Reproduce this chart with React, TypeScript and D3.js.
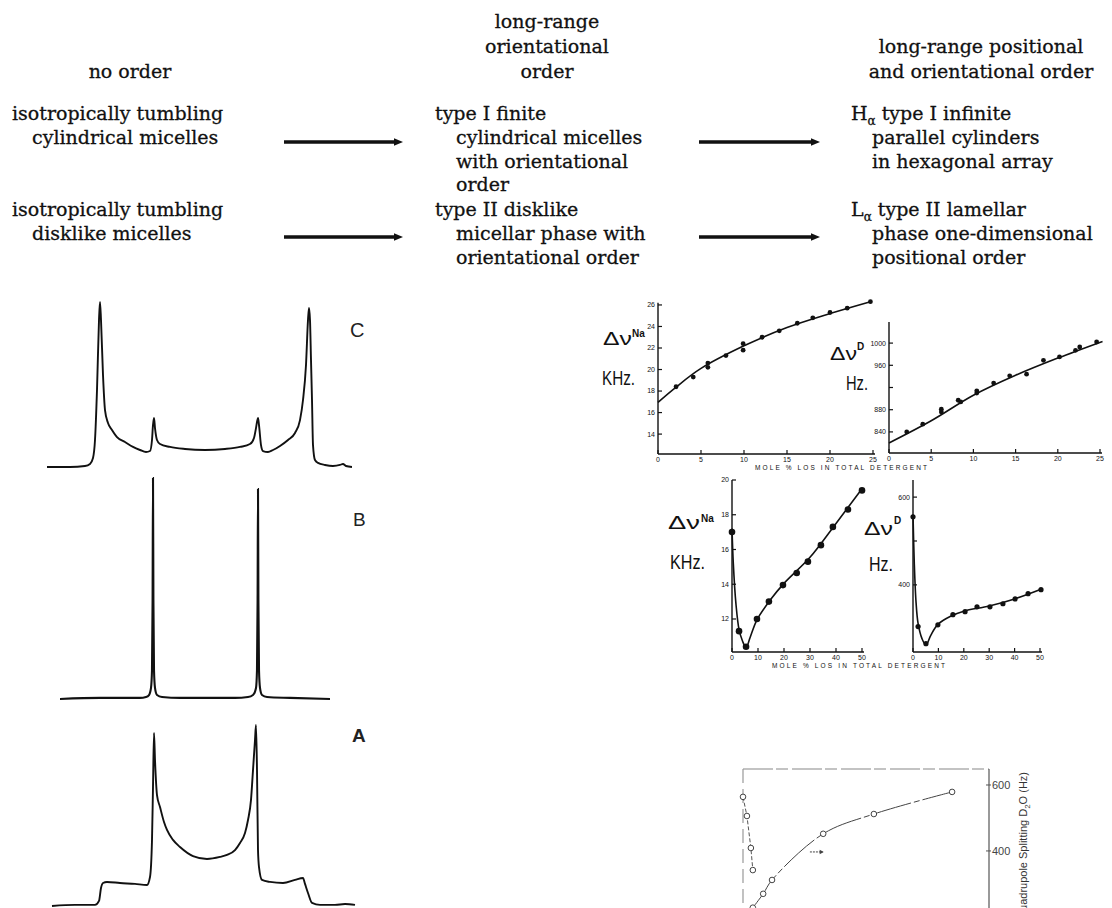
import React from 'react';
import * as d3 from 'd3';

type Pt = [number, number];

// ---- header text ----
const headNoOrder = ['no order'];
const headOrient = ['long-range', 'orientational', 'order'];
const headPosOrient = ['long-range positional', 'and orientational order'];

const row1Left = ['isotropically tumbling', 'cylindrical micelles'];
const row1Mid = ['type I finite', 'cylindrical micelles', 'with orientational', 'order'];
const row1Right = ['type I infinite', 'parallel cylinders', 'in hexagonal array'];
const row2Left = ['isotropically tumbling', 'disklike micelles'];
const row2Mid = ['type II disklike', 'micellar phase with', 'orientational order'];
const row2Right = ['type II lamellar', 'phase one-dimensional', 'positional order'];

// ---- NMR spectra: [relative frequency, intensity %] ----
const spectrumC: Pt[] = [
  [-15.8, 0], [-13.5, 0], [-12.0, 0.6], [-11.5, 1.8], [-11.2, 5.3], [-11.0, 15.9], [-10.8, 45.3],
  [-10.6, 86.5], [-10.5, 97.1], [-10.4, 86.5], [-10.2, 54.1], [-10.0, 33.5], [-9.7, 25.9], [-9.3, 21.8],
  [-8.8, 17.6], [-8.0, 14.7], [-7.2, 11.8], [-6.5, 10.0], [-5.9, 8.8], [-5.5, 9.4], [-5.3, 15.9],
  [-5.2, 24.7], [-5.1, 28.8], [-5.0, 22.9], [-4.8, 15.9], [-4.5, 13.5], [-3.5, 11.8], [-2.0, 10.6],
  [0, 10.0], [2.0, 10.6], [3.5, 11.8], [4.5, 13.5], [4.9, 17.1], [5.1, 22.9], [5.3, 28.8], [5.4, 24.7],
  [5.6, 12.9], [5.8, 9.4], [6.3, 8.8], [6.8, 10.0], [7.5, 12.4], [8.3, 15.9], [9.0, 20.0], [9.5, 27.6],
  [9.8, 39.4], [10.1, 60.0], [10.3, 86.5], [10.4, 93.5], [10.5, 86.5], [10.6, 62.9], [10.7, 39.4],
  [10.8, 12.9], [11.0, 4.1], [11.3, 2.4], [12.0, 1.2], [12.8, 0.6], [13.5, 1.2], [13.8, 1.8],
  [14.1, 0.6], [14.7, 0],
];
const spectrumB: Pt[] = [
  [-14.5, 0], [-10.5, 0.5], [-6.5, 0.5], [-5.9, 0.9], [-5.6, 1.8], [-5.4, 5.0], [-5.3, 13.1],
  [-5.24, 44.8], [-5.2, 100], [-5.16, 44.8], [-5.1, 13.1], [-5.0, 5.0], [-4.8, 1.8], [-4.3, 0.9],
  [-2.5, 0.5], [0, 0.5], [3, 0.5], [4.3, 0.9], [4.8, 1.8], [5.1, 5.0], [5.2, 13.1], [5.26, 44.8],
  [5.3, 95], [5.34, 44.8], [5.4, 13.1], [5.5, 5.0], [5.7, 1.8], [6.2, 0.9], [8.5, 0.5], [12.5, 0],
];
const spectrumA: Pt[] = [
  [-15.3, 0], [-13, 0.6], [-11, 0.6], [-10.6, 2.8], [-10.4, 9.9], [-10.2, 12.7], [-9.8, 13.3],
  [-8.5, 12.7], [-7.0, 12.2], [-5.8, 11.6], [-5.5, 16.0], [-5.3, 36.5], [-5.2, 65.7], [-5.1, 95.6],
  [-5.0, 80.7], [-4.8, 61.3], [-4.5, 54.7], [-4.1, 46.4], [-3.8, 42.0], [-3.2, 36.5], [-2.5, 32.6],
  [-1.2, 27.6], [0.2, 26.0], [1.5, 27.1], [2.2, 28.2], [3.0, 30.9], [3.5, 34.8], [4.0, 40.3],
  [4.3, 47.5], [4.6, 58.6], [4.8, 75.1], [5.0, 91.7], [5.1, 100], [5.2, 75.1], [5.3, 30.9],
  [5.4, 21.5], [5.7, 14.4], [6.5, 13.3], [7.8, 12.7], [9.0, 14.4], [9.8, 15.5], [10.0, 12.2],
  [10.3, 7.2], [10.7, 1.7], [11.5, 0.6], [13, 0.6], [14, 1.1], [15, 0.6],
];

// ---- splitting vs mole % LOS ----
const molTicksTop = [0, 5, 10, 15, 20, 25];
const molTicksBot = [0, 10, 20, 30, 40, 50];

const naTopPoints: Pt[] = [
  [2.1, 18.4], [4.1, 19.3], [5.8, 20.6], [5.8, 20.2], [7.9, 21.3], [9.9, 22.4], [9.9, 21.8],
  [12.1, 23.0], [14.1, 23.6], [16.2, 24.3], [18.0, 24.8], [20.0, 25.3], [22.0, 25.7], [24.7, 26.3],
];
const naTopCurve: Pt[] = [[0, 16.95], [2, 18.3], [5, 20.1], [10, 22.2], [15, 23.9], [20, 25.2], [24.7, 26.3]];
const naTopTicks = [14, 16, 18, 20, 22, 24, 26];
const naTopLabels = ['14', '16', '18', '20', '22', '24', '26'];

const dTopPoints: Pt[] = [
  [2.1, 840], [4.0, 854], [6.2, 881], [6.2, 876], [8.2, 897], [8.5, 894], [10.4, 914], [10.4, 910],
  [12.4, 928], [14.3, 941], [16.3, 944], [18.3, 969], [20.2, 975], [22.1, 987], [22.6, 993], [24.6, 1002],
];
const dTopCurve: Pt[] = [[0, 820], [5, 860], [10, 906], [15, 942], [20, 973], [25.3, 1003]];
const dTopTicks = [840, 880, 920, 960, 1000];
const dTopLabels = ['840', '880', '', '960', '1000'];

const naBotPoints: Pt[] = [
  [0, 17.0], [2.7, 11.3], [5.4, 10.4], [9.6, 12.0], [14.2, 13.0], [19.6, 13.95], [24.9, 14.65],
  [29.2, 15.3], [34.2, 16.25], [38.8, 17.3], [44.6, 18.3], [50, 19.4],
];
const naBotCurve: Pt[] = [
  [0, 17.2], [0.5, 15.2], [1.5, 12.9], [2.7, 11.4], [4, 10.75], [5.4, 10.35], [7, 10.95], [9.6, 11.95],
  [15, 13.15], [20, 14.05], [30, 15.55], [40, 17.5], [50, 19.5],
];
const naBotTicks = [12, 14, 16, 18, 20];
const naBotLabels = ['12', '14', '16', '18', '20'];

const dBotPoints: Pt[] = [
  [0, 555], [2.0, 305], [5.1, 266], [9.8, 309], [15.7, 332], [20.5, 339], [25.2, 350],
  [30.3, 350], [35.4, 357], [40.2, 368], [45.3, 380], [50.4, 389],
];
const dBotCurve: Pt[] = [
  [0, 560], [0.5, 450], [1.2, 360], [2, 312], [3.5, 278], [5.1, 263], [7, 285], [9.8, 310],
  [15, 329], [20, 340], [30, 352], [40, 368], [50.4, 390],
];
const dBotTicks = [400, 500, 600];
const dBotLabels = ['400', '', '600'];

// ---- D2O quadrupole splitting (lower right) ----
const d2oFall: Pt[] = [[0, 564], [0.8, 506], [1.6, 409], [2.0, 342]];
const d2oRise: Pt[] = [[2.0, 228], [4.1, 270], [5.9, 312], [16.3, 452], [26.6, 512], [42.5, 579]];
const d2oTicks = [400, 600];

const serif = 'DejaVu Serif';
const sans = 'Liberation Sans';
const ink = '#111';

const specX = d3.scaleLinear().domain([-16, 16]).range([45, 365]);
const specLine = (y: d3.ScaleLinear<number, number>) =>
  d3.line<Pt>().x(d => specX(d[0])).y(d => y(d[1])).curve(d3.curveMonotoneX);

const yC = d3.scaleLinear().domain([0, 100]).range([467, 297]);
const yB = d3.scaleLinear().domain([0, 100]).range([699, 478]);
const yA = d3.scaleLinear().domain([0, 100]).range([906, 725]);

function Panel({ x, y, points, curve, xTicks, yTicks, yLabels, r }: any) {
  const line = d3.line<Pt>().x(d => x(d[0])).y(d => y(d[1])).curve(d3.curveCatmullRom);
  const [x0, x1] = x.range();
  const [yb, yt] = y.range();
  return (
    <g>
      <line x1={x0} x2={x0} y1={yb} y2={yt} stroke={ink} strokeWidth={1.4} />
      <line x1={x0} x2={x1 + 2} y1={yb} y2={yb} stroke={ink} strokeWidth={1.3} />
      {yTicks.map((t: number, i: number) => (
        <g key={'y' + i}>
          <line x1={x0} x2={x0 + 4} y1={y(t)} y2={y(t)} stroke={ink} strokeWidth={1.2} />
          <text x={x0 - 3} y={y(t)} dy="0.35em" textAnchor="end" fontSize={7} fontFamily={sans} fill={ink}>
            {yLabels[i]}
          </text>
        </g>
      ))}
      {xTicks.map((t: number, i: number) => (
        <g key={'x' + i}>
          <line x1={x(t)} x2={x(t)} y1={yb} y2={yb - 4} stroke={ink} strokeWidth={1.2} />
          <text x={x(t)} y={yb + 8} textAnchor="middle" fontSize={7} fontFamily={sans} fill={ink}>
            {t}
          </text>
        </g>
      ))}
      <path d={line(curve) || ''} fill="none" stroke={ink} strokeWidth={1.6} />
      {points.map((p: Pt, i: number) => (
        <circle key={'p' + i} cx={x(p[0])} cy={y(p[1])} r={r} fill={ink} />
      ))}
    </g>
  );
}

function Arrow({ x1, x2, y }: { x1: number; x2: number; y: number }) {
  return (
    <g>
      <line x1={x1} x2={x2 - 6} y1={y} y2={y} stroke={ink} strokeWidth={3.4} />
      <path d={`M${x2},${y} L${x2 - 9},${y - 3.8} L${x2 - 9},${y + 3.8} Z`} fill={ink} />
    </g>
  );
}

const serifProps = { fontFamily: serif, fontSize: 19, fill: ink, stroke: ink, strokeWidth: 0.3 };

function Lines({ lines, x, indent, y0, step }: { lines: string[]; x: number; indent: number; y0: number; step: number }) {
  return (
    <g>
      {lines.map((s, i) => (
        <text key={i} x={i === 0 ? x : x + indent} y={y0 + i * step} {...serifProps}>
          {s}
        </text>
      ))}
    </g>
  );
}

function DeltaNu({ x, y, w, sup, supX, supY }: { x: number; y: number; w: number; sup: string; supX: number; supY: number }) {
  return (
    <g>
      <text x={x} y={y} fontFamily={sans} fontSize={19} textLength={w} lengthAdjust="spacingAndGlyphs" fill={ink}>Δν</text>
      <text x={supX} y={supY} fontFamily={sans} fontSize={10} fontWeight="bold" fill={ink}>{sup}</text>
    </g>
  );
}

export default function App() {
  const p1x = d3.scaleLinear().domain([0, 25]).range([658, 873]);
  const p1y = d3.scaleLinear().domain([12.15, 26.2]).range([454, 302.8]);
  const p2x = d3.scaleLinear().domain([0, 25]).range([889, 1100]);
  const p2y = d3.scaleLinear().domain([802, 1038]).range([453, 322]);
  const p3x = d3.scaleLinear().domain([0, 50]).range([732, 862]);
  const p3y = d3.scaleLinear().domain([10.1, 20]).range([652, 480]);
  const p4x = d3.scaleLinear().domain([0, 50]).range([913, 1040]);
  const p4y = d3.scaleLinear().domain([247, 639]).range([652, 480]);
  const p5x = d3.scaleLinear().domain([0, 50]).range([743, 989]);
  const p5y = d3.scaleLinear().domain([227, 648.5]).range([908, 769]);

  const riseLine = d3.line<Pt>().x(d => p5x(d[0])).y(d => p5y(d[1])).curve(d3.curveCatmullRom);
  const fallLine = d3.line<Pt>().x(d => p5x(d[0])).y(d => p5y(d[1]));
  const step = 23.8;

  return (
    <div>
      <style>{`body{margin:0}`}</style>
      <svg width={1112} height={908} style={{ display: 'block', background: '#fff' }}>
        {/* column headers */}
        {headNoOrder.map((s, i) => (
          <text key={'h0' + i} x={130} y={78} textAnchor="middle" {...serifProps}>{s}</text>
        ))}
        {headOrient.map((s, i) => (
          <text key={'h1' + i} x={547} y={28 + i * 25} textAnchor="middle" {...serifProps}>{s}</text>
        ))}
        {headPosOrient.map((s, i) => (
          <text key={'h2' + i} x={981} y={53 + i * 25} textAnchor="middle" {...serifProps}>{s}</text>
        ))}

        <Lines lines={row1Left} x={12} indent={20} y0={120} step={step} />
        <Lines lines={row1Mid} x={435} indent={21} y0={120} step={step} />
        <text x={851} y={120} {...serifProps}>
          H<tspan fontSize={12} dy={5}>α</tspan><tspan dy={-5}> {row1Right[0]}</tspan>
        </text>
        <Lines lines={['', ...row1Right.slice(1)]} x={851} indent={21} y0={120} step={step} />

        <Lines lines={row2Left} x={12} indent={20} y0={216} step={step} />
        <Lines lines={row2Mid} x={435} indent={21} y0={216} step={step} />
        <text x={851} y={216} {...serifProps}>
          L<tspan fontSize={12} dy={5}>α</tspan><tspan dy={-5}> {row2Right[0]}</tspan>
        </text>
        <Lines lines={['', ...row2Right.slice(1)]} x={851} indent={21} y0={216} step={step} />

        <Arrow x1={284} x2={403} y={142} />
        <Arrow x1={699} x2={820} y={142} />
        <Arrow x1={284} x2={403} y={237} />
        <Arrow x1={699} x2={820} y={237} />

        {/* spectra */}
        <path d={specLine(yC)(spectrumC) || ''} fill="none" stroke={ink} strokeWidth={1.9} />
        <path d={specLine(yB)(spectrumB) || ''} fill="none" stroke={ink} strokeWidth={2.1} />
        <path d={specLine(yA)(spectrumA) || ''} fill="none" stroke={ink} strokeWidth={1.9} />
        <text x={350} y={337} fontFamily={sans} fontSize={20} fill="#222">C</text>
        <text x={353} y={526} fontFamily={sans} fontSize={19} fill="#222">B</text>
        <text x={352} y={742} fontFamily={sans} fontSize={19} fontWeight="bold" fill="#222">A</text>

        {/* splitting panels */}
        <Panel x={p1x} y={p1y} points={naTopPoints} curve={naTopCurve} xTicks={molTicksTop} yTicks={naTopTicks} yLabels={naTopLabels} r={2.4} />
        <Panel x={p2x} y={p2y} points={dTopPoints} curve={dTopCurve} xTicks={molTicksTop} yTicks={dTopTicks} yLabels={dTopLabels} r={2.4} />
        <Panel x={p3x} y={p3y} points={naBotPoints} curve={naBotCurve} xTicks={molTicksBot} yTicks={naBotTicks} yLabels={naBotLabels} r={3.3} />
        <Panel x={p4x} y={p4y} points={dBotPoints} curve={dBotCurve} xTicks={molTicksBot} yTicks={dBotTicks} yLabels={dBotLabels} r={2.6} />

        <text x={755} y={470} fontFamily={sans} fontSize={6.5} textLength={172} lengthAdjust="spacing" fill={ink}>MOLE % LOS IN TOTAL DETERGENT</text>
        <text x={772} y={668} fontFamily={sans} fontSize={6.5} textLength={173} lengthAdjust="spacing" fill={ink}>MOLE % LOS IN TOTAL DETERGENT</text>

        {/* axis titles */}
        <DeltaNu x={603} y={345} w={29} sup="Na" supX={632} supY={337} />
        <text x={602} y={385} fontFamily={sans} fontSize={20} textLength={33} lengthAdjust="spacingAndGlyphs" fill={ink}>KHz.</text>

        <DeltaNu x={830} y={360} w={27} sup="D" supX={857} supY={350} />
        <text x={846} y={390} fontFamily={sans} fontSize={20} textLength={22} lengthAdjust="spacingAndGlyphs" fill={ink}>Hz.</text>

        <DeltaNu x={668} y={529} w={32} sup="Na" supX={701} supY={522} />
        <text x={670} y={569} fontFamily={sans} fontSize={20} textLength={35} lengthAdjust="spacingAndGlyphs" fill={ink}>KHz.</text>

        <DeltaNu x={864} y={535} w={29} sup="D" supX={894} supY={524} />
        <text x={869} y={571} fontFamily={sans} fontSize={21} textLength={24} lengthAdjust="spacingAndGlyphs" fill={ink}>Hz.</text>

        {/* D2O panel */}
        <line x1={p5x(0)} x2={p5x(50)} y1={p5y(648.5)} y2={p5y(648.5)} stroke="#888" strokeWidth={1.2} strokeDasharray="30 3 12 4" />
        <line x1={p5x(0)} x2={p5x(0)} y1={p5y(648.5)} y2={908} stroke="#999" strokeWidth={1.2} strokeDasharray="14 6" />
        <line x1={p5x(50)} x2={p5x(50)} y1={p5y(648.5)} y2={908} stroke="#555" strokeWidth={1.2} />
        {d2oTicks.map(t => (
          <g key={t}>
            <line x1={p5x(50) - 3} x2={p5x(50) + 2} y1={p5y(t)} y2={p5y(t)} stroke="#555" strokeWidth={1} />
            <text x={p5x(50) + 3} y={p5y(t)} dy="0.36em" fontFamily={sans} fontSize={11} fill="#444">{t}</text>
          </g>
        ))}
        <text transform={`translate(1027,772) rotate(-90)`} textAnchor="end" fontFamily={sans} fontSize={11} fill="#333">
          Quadrupole Splitting D<tspan fontSize={8} dy={3}>2</tspan><tspan dy={-3}>O (Hz)</tspan>
        </text>
        <path d={fallLine(d2oFall) || ''} fill="none" stroke="#555" strokeWidth={1} strokeDasharray="4 2" />
        <path d={riseLine(d2oRise) || ''} fill="none" stroke="#444" strokeWidth={1} strokeDasharray="40 3 6 3" />
        {[...d2oFall, ...d2oRise].map((p, i) => (
          <circle key={i} cx={p5x(p[0])} cy={p5y(p[1])} r={2.8} fill="#fff" stroke="#444" strokeWidth={1} />
        ))}
        <line x1={p5x(13.6)} x2={p5x(16.2)} y1={p5y(397)} y2={p5y(397)} stroke="#444" strokeWidth={1} strokeDasharray="2 1" />
        <path d={`M${p5x(16.4)},${p5y(397)} l-4,-2.2 l0,4.4 Z`} fill="#444" />
      </svg>
    </div>
  );
}
